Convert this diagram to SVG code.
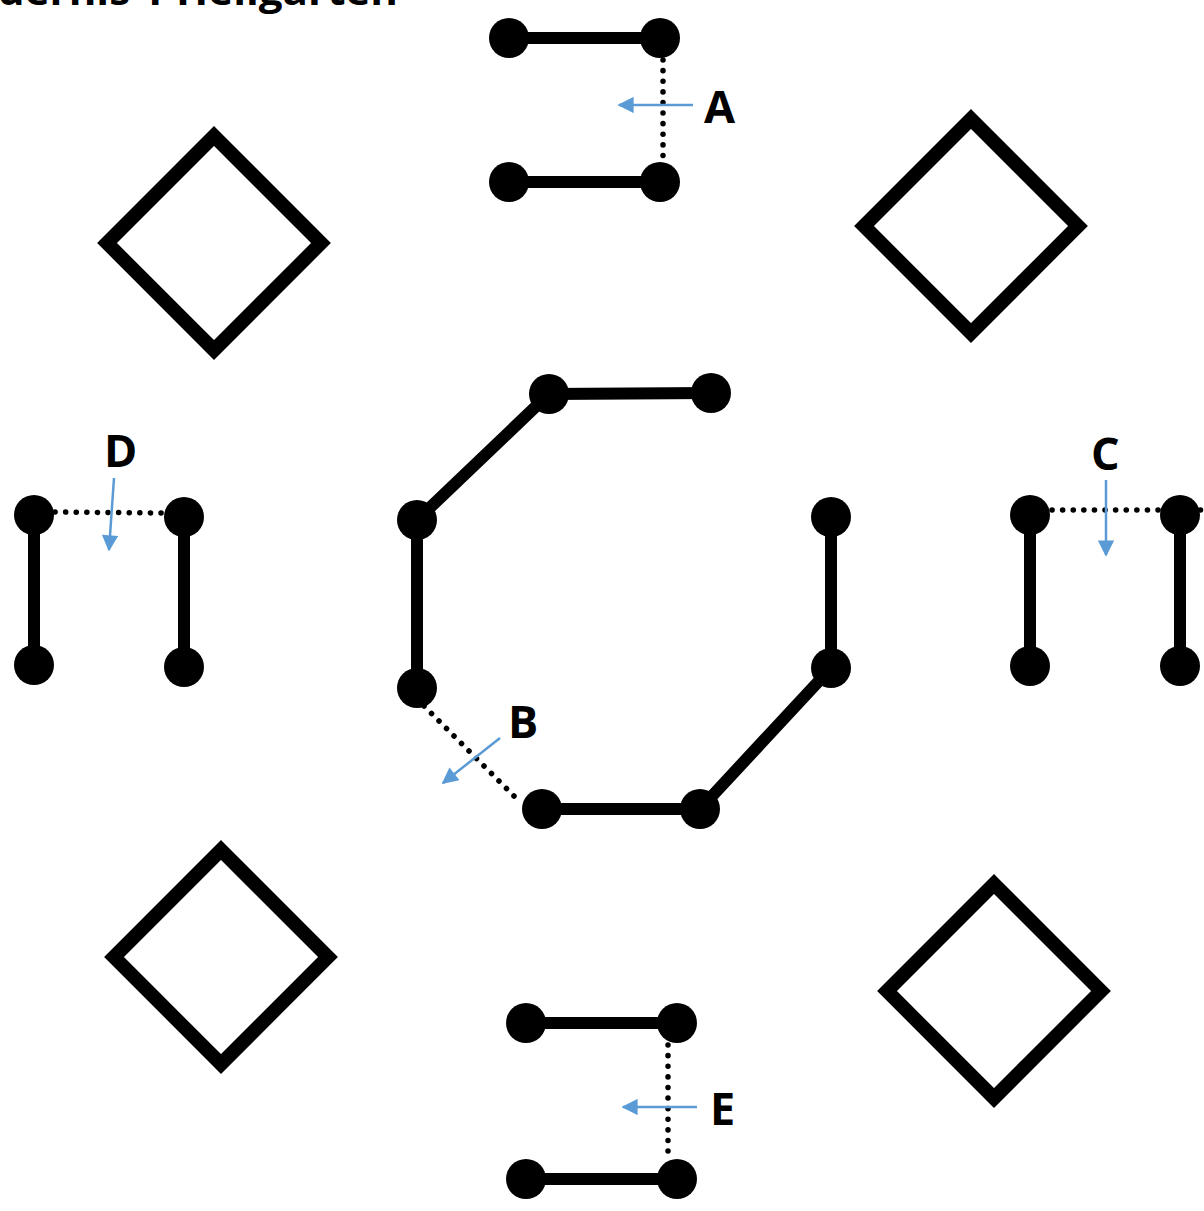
<svg xmlns="http://www.w3.org/2000/svg" width="1204" height="1211" viewBox="0 0 1204 1211">
<style>
.bar{stroke:#000;stroke-width:12;fill:none}
.dot{fill:#000}
.dotted{stroke:#000;stroke-width:5.5;stroke-linecap:round;stroke-dasharray:0.1 10.5;fill:none}
.diamond{stroke:#000;stroke-width:14;fill:none;stroke-linejoin:miter}
.arrow{stroke:#5B9BD5;stroke-width:2.5;fill:none;marker-end:url(#ah)}
.lbl{font-family:"Open Sans","Liberation Sans",sans-serif;font-weight:bold;font-size:45px;fill:#000}
.title{font-family:"Open Sans","Liberation Sans",sans-serif;font-weight:bold;font-size:40px;fill:#000}
</style>
<defs>
<marker id="ah" viewBox="0 0 10 10" refX="9" refY="5" markerWidth="8" markerHeight="6.5" markerUnits="strokeWidth" orient="auto">
<path d="M0,0 L10,5 L0,10 Z" fill="#5B9BD5"/>
</marker>
</defs>
<rect width="1204" height="1211" fill="#fff"/>
<text class="title" x="-2" y="5" textLength="400" lengthAdjust="spacingAndGlyphs">dernis 1 Heilgarten</text>

<g id="diamond-tl"><path class="diamond" d="M214,136 L321,243 L214,350 L107,243 Z"/></g>
<g id="diamond-tr"><path class="diamond" d="M971,119 L1078,226 L971,333 L864,226 Z"/></g>
<g id="diamond-bl"><path class="diamond" d="M221,850 L328,957 L221,1064 L114,957 Z"/></g>
<g id="diamond-br"><path class="diamond" d="M994,884 L1101,991 L994,1098 L887,991 Z"/></g>

<g id="connectors">
<line class="dotted" x1="663" y1="60" x2="663" y2="160"/>
<line class="dotted" x1="424" y1="706" x2="518" y2="800"/>
<line class="dotted" x1="55" y1="512" x2="162" y2="513"/>
<line class="dotted" x1="1052" y1="510" x2="1202" y2="510"/>
<line class="dotted" x1="668" y1="1045" x2="668" y2="1160"/>
<line class="arrow" x1="693" y1="105" x2="619" y2="105"/>
<line class="arrow" x1="500" y1="738" x2="443" y2="783"/>
<line class="arrow" x1="114" y1="478" x2="109" y2="550"/>
<line class="arrow" x1="1106" y1="480" x2="1106" y2="555"/>
<line class="arrow" x1="697" y1="1107" x2="623" y2="1107"/>
</g>

<g id="node-A">
<line class="bar" x1="509" y1="38" x2="660" y2="38"/>
<line class="bar" x1="509" y1="182" x2="660" y2="182"/>
<circle class="dot" cx="509" cy="38" r="20"/>
<circle class="dot" cx="660" cy="38" r="20"/>
<circle class="dot" cx="509" cy="182" r="20"/>
<circle class="dot" cx="660" cy="182" r="20"/>
<text class="lbl" x="704" y="123">A</text>
</g>

<g id="node-center">
<polyline class="bar" points="711,393 549,394 417,520 417,688"/>
<polyline class="bar" points="831,517 831,668 700,809 542,809"/>
<circle class="dot" cx="549" cy="394" r="20"/>
<circle class="dot" cx="711" cy="393" r="20"/>
<circle class="dot" cx="417" cy="520" r="20"/>
<circle class="dot" cx="417" cy="688" r="20"/>
<circle class="dot" cx="831" cy="517" r="20"/>
<circle class="dot" cx="831" cy="668" r="20"/>
<circle class="dot" cx="700" cy="809" r="20"/>
<circle class="dot" cx="542" cy="809" r="20"/>
<text class="lbl" x="508" y="738">B</text>
</g>

<g id="node-D">
<line class="bar" x1="34" y1="515" x2="34" y2="665"/>
<line class="bar" x1="184" y1="517" x2="184" y2="667"/>
<circle class="dot" cx="34" cy="515" r="20"/>
<circle class="dot" cx="34" cy="665" r="20"/>
<circle class="dot" cx="184" cy="517" r="20"/>
<circle class="dot" cx="184" cy="667" r="20"/>
<text class="lbl" x="104" y="467">D</text>
</g>

<g id="node-C">
<line class="bar" x1="1030" y1="515" x2="1030" y2="666"/>
<line class="bar" x1="1180" y1="515" x2="1180" y2="666"/>
<circle class="dot" cx="1030" cy="515" r="20"/>
<circle class="dot" cx="1030" cy="666" r="20"/>
<circle class="dot" cx="1180" cy="515" r="20"/>
<circle class="dot" cx="1180" cy="666" r="20"/>
<text class="lbl" x="1091" y="470">C</text>
</g>

<g id="node-E">
<line class="bar" x1="526" y1="1023" x2="677" y2="1023"/>
<line class="bar" x1="526" y1="1179" x2="677" y2="1179"/>
<circle class="dot" cx="526" cy="1023" r="20"/>
<circle class="dot" cx="677" cy="1023" r="20"/>
<circle class="dot" cx="526" cy="1179" r="20"/>
<circle class="dot" cx="677" cy="1179" r="20"/>
<text class="lbl" x="710" y="1125">E</text>
</g>
</svg>
